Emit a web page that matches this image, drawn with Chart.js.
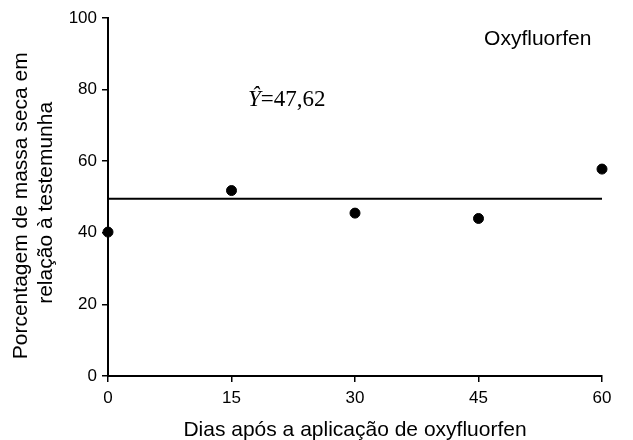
<!DOCTYPE html>
<html>
<head>
<meta charset="utf-8">
<script src="https://cdn.jsdelivr.net/npm/chart.js@4"></script>
<style>
  html, body { margin: 0; padding: 0; background: #fff; }
  #wrap { width: 633px; height: 440px; }
</style>
</head>
<body>
<div id="wrap"><canvas id="chart" width="633" height="440"></canvas></div>
<script>
// Dados
const dias = [0, 15, 30, 45, 60];
const massaSeca = [40.2, 51.8, 45.5, 44.0, 57.8];
const mediaX = [0, 60];
const mediaY = [49.5, 49.5];
const xTicks = [0, 15, 30, 45, 60];
const yTicks = [0, 20, 40, 60, 80, 100];

Chart.defaults.font.family = "'Liberation Sans', Arial, sans-serif";
Chart.defaults.color = '#000';

// Texto da equação e do herbicida
const textos = {
  id: 'textos',
  afterDraw(chart) {
    const ctx = chart.ctx;
    const x = chart.scales.x, y = chart.scales.y;
    ctx.save();
    ctx.fillStyle = '#000';
    ctx.textBaseline = 'middle';
    let px = x.getPixelForValue(17.0);
    let py = y.getPixelForValue(77.0);
    ctx.font = "italic 23px 'Liberation Serif', 'Times New Roman', serif";
    ctx.textAlign = 'left';
    ctx.fillText('\u0176', px, py);
    px += ctx.measureText('\u0176').width;
    ctx.font = "23px 'Liberation Serif', 'Times New Roman', serif";
    ctx.fillText('=47,62', px, py);
    ctx.font = "21px 'Liberation Sans', Arial, sans-serif";
    ctx.textAlign = 'center';
    ctx.fillText('Oxyfluorfen', x.getPixelForValue(52.2), y.getPixelForValue(94.0));
    ctx.restore();
  }
};

new Chart(document.getElementById('chart'), {
  type: 'scatter',
  data: {
    datasets: [
      {
        type: 'line',
        data: mediaX.map((v, i) => ({ x: v, y: mediaY[i] })),
        borderColor: '#000',
        borderWidth: 2,
        pointRadius: 0,
        fill: false,
        clip: false
      },
      {
        data: dias.map((v, i) => ({ x: v, y: massaSeca[i] })),
        backgroundColor: '#000',
        borderColor: '#000',
        pointRadius: 5,
        pointHoverRadius: 5,
        clip: false
      }
    ]
  },
  options: {
    responsive: false,
    animation: false,
    layout: { padding: { left: 0, right: 31, top: 18, bottom: 0 } },
    plugins: {
      legend: { display: false },
      tooltip: { enabled: false }
    },
    scales: {
      x: {
        type: 'linear',
        min: 0,
        max: 60,
        afterFit(scale) { scale.height = 64; },
        afterBuildTicks(scale) { scale.ticks = xTicks.map(v => ({ value: v })); },
        border: { display: true, color: '#000', width: 2 },
        grid: { display: true, drawOnChartArea: false, drawTicks: true, tickLength: 6, color: '#000', lineWidth: 1.5 },
        ticks: { font: { size: 17 }, padding: 6, maxRotation: 0 },
        title: {
          display: true,
          text: 'Dias após a aplicação de oxyfluorfen',
          font: { size: 21, lineHeight: '20px' },
          padding: { top: 0, bottom: 0 }
        }
      },
      y: {
        min: 0,
        max: 100,
        afterFit(scale) { scale.width = 108; },
        afterBuildTicks(scale) { scale.ticks = yTicks.map(v => ({ value: v })); },
        border: { display: true, color: '#000', width: 2 },
        grid: { display: true, drawOnChartArea: false, drawTicks: true, tickLength: 6, color: '#000', lineWidth: 1.5 },
        ticks: { font: { size: 17 }, padding: 5 },
        title: {
          display: true,
          // espaços finais deslocam o texto um pouco para baixo, como no original
          text: ['Porcentagem de massa seca em   ', 'relação à testemunha  '],
          font: { size: 21, lineHeight: '25px' },
          padding: { top: 8.5, bottom: 0 }
        }
      }
    }
  },
  plugins: [textos]
});
</script>
</body>
</html>
